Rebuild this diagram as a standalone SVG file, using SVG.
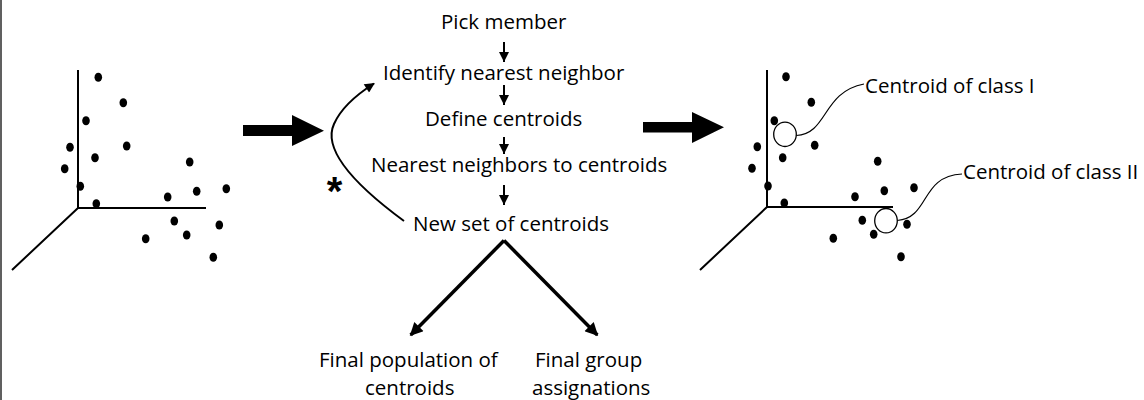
<svg xmlns="http://www.w3.org/2000/svg" width="1144" height="400" viewBox="0 0 1144 400">
  <style>
    .t { font-family: "Open Sans", "Liberation Sans", sans-serif; font-size: 20.5px; fill: #000; }
    .ax { stroke: #000; stroke-width: 2; fill: none; }
    .pt { fill: #000; }
    .cen { fill: #fff; stroke: #000; stroke-width: 1.3; }
    .lead { stroke: #000; stroke-width: 1.2; fill: none; }
    .step { stroke: #000; stroke-width: 2; fill: none; marker-end: url(#headS); }
    .split { stroke: #000; stroke-width: 3.5; fill: none; marker-end: url(#headL); }
    .big { fill: #000; }
  </style>
  <defs>
    <marker id="headS" markerUnits="userSpaceOnUse" viewBox="0 0 10 10" markerWidth="11" markerHeight="10" refX="10" refY="5" orient="auto">
      <path d="M0,0 L10,5 L0,10 z" fill="#000"/>
    </marker>
    <marker id="headL" markerUnits="userSpaceOnUse" viewBox="0 0 10 10" markerWidth="15" markerHeight="13" refX="9" refY="5" orient="auto">
      <path d="M0,0 L10,5 L0,10 z" fill="#000"/>
    </marker>
    <marker id="headC" markerUnits="userSpaceOnUse" viewBox="0 0 10 10" markerWidth="12" markerHeight="10" refX="9" refY="5" orient="auto">
      <path d="M0,0 L10,5 L0,10 z" fill="#000"/>
    </marker>
  </defs>

  <rect x="0" y="0" width="1144" height="400" fill="#fff"/>
  <rect x="0" y="0" width="2" height="400" fill="#606060"/>

  <!-- initial scatter of members -->
  <g id="scatter-initial">
    <path class="ax" d="M78,70 V208 H206 M78,208 L12,270"/>
    <ellipse class="pt" cx="98.3" cy="77.3" rx="3.8" ry="4.5"/>
    <ellipse class="pt" cx="123.3" cy="102.7" rx="3.8" ry="4.5"/>
    <ellipse class="pt" cx="86" cy="120.7" rx="3.8" ry="4.5"/>
    <ellipse class="pt" cx="70" cy="147.3" rx="3.8" ry="4.5"/>
    <ellipse class="pt" cx="126.7" cy="146" rx="3.8" ry="4.5"/>
    <ellipse class="pt" cx="95" cy="157.7" rx="3.8" ry="4.5"/>
    <ellipse class="pt" cx="64.7" cy="168.7" rx="3.8" ry="4.5"/>
    <ellipse class="pt" cx="80.3" cy="186.3" rx="3.8" ry="4.5"/>
    <ellipse class="pt" cx="96.3" cy="203.7" rx="3.8" ry="4.5"/>
    <ellipse class="pt" cx="189.7" cy="162" rx="3.8" ry="4.5"/>
    <ellipse class="pt" cx="167.7" cy="197" rx="3.8" ry="4.5"/>
    <ellipse class="pt" cx="196.7" cy="191.3" rx="3.8" ry="4.5"/>
    <ellipse class="pt" cx="226.3" cy="188.7" rx="3.8" ry="4.5"/>
    <ellipse class="pt" cx="174.3" cy="221" rx="3.8" ry="4.5"/>
    <ellipse class="pt" cx="219.3" cy="225" rx="3.8" ry="4.5"/>
    <ellipse class="pt" cx="186.7" cy="235" rx="3.8" ry="4.5"/>
    <ellipse class="pt" cx="145.7" cy="238.7" rx="3.8" ry="4.5"/>
    <ellipse class="pt" cx="213.3" cy="257.3" rx="3.8" ry="4.5"/>
  </g>

  <!-- clustering steps -->
  <g id="step-pick"><text class="t" x="441" y="28.5">Pick member</text></g>
  <g id="step-identify"><text class="t" x="383" y="80">Identify nearest neighbor</text></g>
  <g id="step-define"><text class="t" x="425" y="126">Define centroids</text></g>
  <g id="step-nearest"><text class="t" x="371" y="172">Nearest neighbors to centroids</text></g>
  <g id="step-new"><text class="t" x="413" y="231">New set of centroids</text></g>
  <g id="out-population">
    <text class="t"><tspan x="319" y="366.5">Final population of</tspan><tspan x="365" y="394.5">centroids</tspan></text>
  </g>
  <g id="out-groups">
    <text class="t"><tspan x="535" y="366.5">Final group</tspan><tspan x="532" y="394.5">assignations</tspan></text>
  </g>
  <g id="loop-mark">
    <text x="334.5" y="205" text-anchor="middle" style="font-family: 'Liberation Sans', sans-serif; font-size: 40px; font-weight: bold;">*</text>
  </g>

  <!-- final scatter with class centroids -->
  <g id="scatter-final">
    <path class="ax" d="M767,70 V207 H893 M767,207 L700,270"/>
    <ellipse class="pt" cx="786" cy="76.7" rx="3.8" ry="4.5"/>
    <ellipse class="pt" cx="811.3" cy="102.3" rx="3.8" ry="4.5"/>
    <ellipse class="pt" cx="774.3" cy="120.7" rx="3.8" ry="4.5"/>
    <ellipse class="pt" cx="814.7" cy="145.3" rx="3.8" ry="4.5"/>
    <ellipse class="pt" cx="757.3" cy="146.7" rx="3.8" ry="4.5"/>
    <ellipse class="pt" cx="782.7" cy="157.7" rx="3.8" ry="4.5"/>
    <ellipse class="pt" cx="752" cy="168.3" rx="3.8" ry="4.5"/>
    <ellipse class="pt" cx="768" cy="186" rx="3.8" ry="4.5"/>
    <ellipse class="pt" cx="784.3" cy="203" rx="3.8" ry="4.5"/>
    <ellipse class="pt" cx="877.7" cy="161.3" rx="3.8" ry="4.5"/>
    <ellipse class="pt" cx="855" cy="196.7" rx="3.8" ry="4.5"/>
    <ellipse class="pt" cx="884.3" cy="190.7" rx="3.8" ry="4.5"/>
    <ellipse class="pt" cx="914" cy="187.7" rx="3.8" ry="4.5"/>
    <ellipse class="pt" cx="862.3" cy="220.3" rx="3.8" ry="4.5"/>
    <ellipse class="pt" cx="907" cy="224.3" rx="3.8" ry="4.5"/>
    <ellipse class="pt" cx="873.7" cy="234.3" rx="3.8" ry="4.5"/>
    <ellipse class="pt" cx="833.3" cy="238.3" rx="3.8" ry="4.5"/>
    <ellipse class="pt" cx="901" cy="256.7" rx="3.8" ry="4.5"/>
  </g>
  <g id="centroid-1">
    <ellipse class="cen" cx="785" cy="134.3" rx="11.3" ry="12.2"/>
    <path class="lead" d="M796.3,135.5 C828,134 822,92 864,84"/>
    <text class="t" x="865" y="93">Centroid of class I</text>
  </g>
  <g id="centroid-2">
    <ellipse class="cen" cx="886" cy="220.7" rx="11.3" ry="12.2"/>
    <path class="lead" d="M897.3,220.5 C930,218 920,176 962,174"/>
    <text class="t" x="963" y="179">Centroid of class II</text>
  </g>

  <!-- connectors -->
  <g id="connectors">
    <polygon class="big" points="243,125 292,125 292,115 324,130.7 292,146 292,136 243,136"/>
    <polygon class="big" points="643,122 692,122 692,112 724,127.3 692,143 692,132.5 643,132.5"/>
    <line class="step" x1="504" y1="42" x2="504" y2="62"/>
    <line class="step" x1="504" y1="85" x2="504" y2="105"/>
    <line class="step" x1="504" y1="137" x2="504" y2="154"/>
    <line class="step" x1="504" y1="185" x2="504" y2="205"/>
    <path d="M404,221 C355,185 322,150 334,124 C341,108 356,95 374,83.5" stroke="#000" stroke-width="2" fill="none" marker-end="url(#headC)"/>
    <line class="split" x1="504" y1="240.5" x2="410.7" y2="335"/>
    <line class="split" x1="504" y1="240.5" x2="597.3" y2="335"/>
  </g>
</svg>
